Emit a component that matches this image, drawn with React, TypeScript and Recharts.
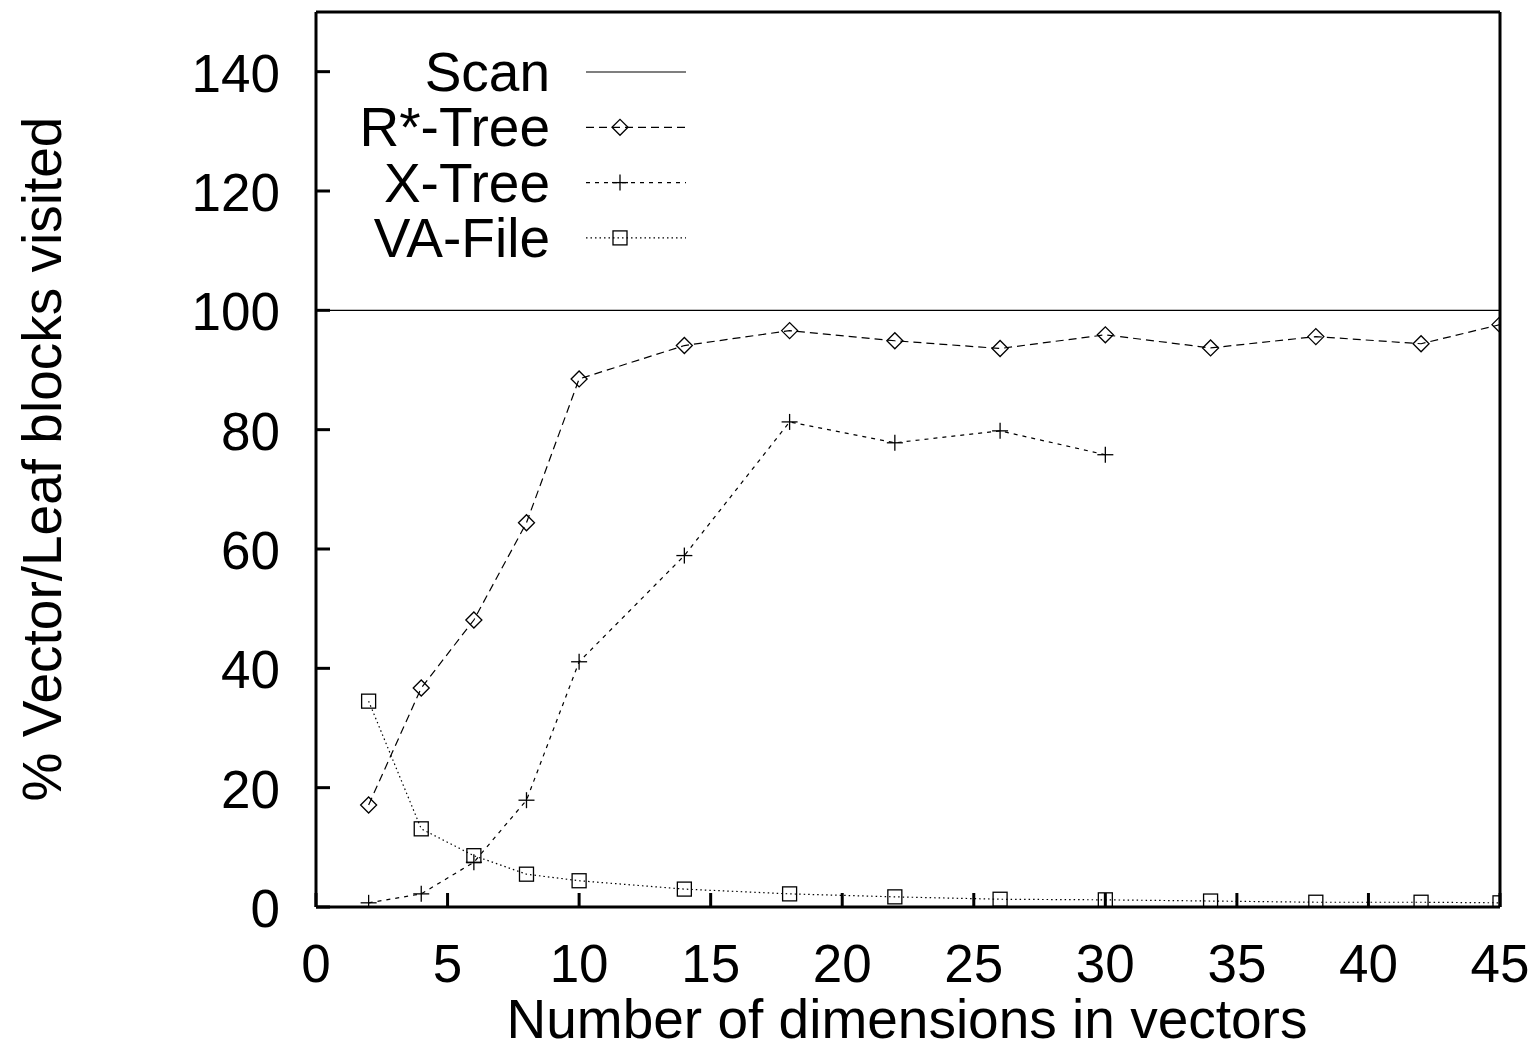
import React from 'react';
import { LineChart, Line, XAxis, YAxis } from 'recharts';

// dimensions on x, % of vector/leaf blocks visited on y
const dims = [2, 4, 6, 8, 10, 14, 18, 22, 26, 30, 34, 38, 42, 45];
const rstarTree = [17.1, 36.7, 48.1, 64.4, 88.5, 94.1, 96.6, 94.9, 93.6, 95.9, 93.7, 95.6, 94.4, 97.6];
const xTreeDims = [2, 4, 6, 8, 10, 14, 18, 22, 26, 30];
const xTree = [0.7, 2.2, 7.5, 17.9, 41.1, 58.9, 81.3, 77.8, 79.8, 75.8];
const vaFile = [34.5, 13.1, 8.6, 5.5, 4.4, 3.0, 2.2, 1.7, 1.3, 1.2, 1.0, 0.8, 0.8, 0.7];
const scanDims = [0, 45];
const scan = [100, 100];

const xTicks = [0, 5, 10, 15, 20, 25, 30, 35, 40, 45];
const yTicks = [0, 20, 40, 60, 80, 100, 120, 140];

const toPoints = (xs: number[], ys: number[]) => xs.map((x, i) => ({ x, y: ys[i] }));

const FONT = '"Liberation Sans", Arial, Helvetica, sans-serif';
const TICK_FS = 53;
const LABEL_FS = 55;
const TICK = 14;

const Diamond = (props: any) => {
  const { cx, cy } = props;
  if (cx == null || cy == null) return null;
  return <path d={`M${cx - 8},${cy} L${cx},${cy - 8} L${cx + 8},${cy} L${cx},${cy + 8} Z`} fill="none" stroke="#000" strokeWidth={1.3} />;
};

const Plus = (props: any) => {
  const { cx, cy } = props;
  if (cx == null || cy == null) return null;
  return (
    <g stroke="#000" strokeWidth={1.3}>
      <line x1={cx - 8} y1={cy} x2={cx + 8} y2={cy} />
      <line x1={cx} y1={cy - 8} x2={cx} y2={cy + 8} />
    </g>
  );
};

const Square = (props: any) => {
  const { cx, cy } = props;
  if (cx == null || cy == null) return null;
  return <rect x={cx - 7} y={cy - 7} width={14} height={14} fill="none" stroke="#000" strokeWidth={1.3} />;
};

const BottomTick = (props: any) => {
  const { x, y, payload } = props;
  return (
    <g>
      <line x1={x} y1={y} x2={x} y2={y - TICK} stroke="#000" strokeWidth={3} />
      <text x={x} y={y + 75} textAnchor="middle" fontSize={TICK_FS} fontFamily={FONT} fill="#000">{payload.value}</text>
    </g>
  );
};

const TopTick = (props: any) => {
  const { x, y } = props;
  return <line x1={x} y1={y} x2={x} y2={y + TICK} stroke="#000" strokeWidth={3} />;
};

const LeftTick = (props: any) => {
  const { x, y, payload } = props;
  return (
    <g>
      <line x1={x} y1={y} x2={x + TICK} y2={y} stroke="#000" strokeWidth={3} />
      <text x={x - 36} y={y + 20} textAnchor="end" fontSize={TICK_FS} fontFamily={FONT} fill="#000">{payload.value}</text>
    </g>
  );
};

const RightTick = (props: any) => {
  const { x, y } = props;
  return <line x1={x} y1={y} x2={x - TICK} y2={y} stroke="#000" strokeWidth={3} />;
};

const legendRows = [
  { name: 'Scan', dash: undefined, Marker: null },
  { name: 'R*-Tree', dash: '8 5', Marker: Diamond },
  { name: 'X-Tree', dash: '4 5', Marker: Plus },
  { name: 'VA-File', dash: '1.5 3', Marker: Square },
];

const ChartLegend = () => (
  <g fontFamily={FONT} fontSize={LABEL_FS}>
    {legendRows.map((r, i) => {
      const cy = 72 + i * 55.3;
      return (
        <g key={r.name}>
          <text x={550} y={cy + 19} textAnchor="end" fill="#000">{r.name}</text>
          <line x1={586} y1={cy} x2={686} y2={cy} stroke="#000" strokeWidth={1.2} strokeDasharray={r.dash} />
          {r.Marker && <r.Marker cx={620} cy={cy} />}
        </g>
      );
    })}
  </g>
);

export default function App() {
  return (
    <div style={{ position: 'absolute', left: 0, top: 0, width: 1533, height: 1043 }}>
      <LineChart width={1533} height={1043} margin={{ top: 0, right: 0, bottom: 0, left: 0 }}>
        <XAxis
          xAxisId="bottom"
          dataKey="x"
          type="number"
          domain={[0, 45]}
          ticks={xTicks}
          height={136}
          tickLine={false}
          tickSize={0}
          tickMargin={0}
          axisLine={{ stroke: '#000', strokeWidth: 3 }}
          tick={<BottomTick />}
          allowDataOverflow
        />
        <XAxis
          xAxisId="top"
          orientation="top"
          type="number"
          domain={[0, 45]}
          ticks={xTicks}
          height={12}
          tickLine={false}
          tickSize={0}
          tickMargin={0}
          axisLine={{ stroke: '#000', strokeWidth: 3 }}
          tick={<TopTick />}
        />
        <YAxis
          yAxisId="left"
          type="number"
          domain={[0, 150]}
          ticks={yTicks}
          width={316}
          tickLine={false}
          tickSize={0}
          tickMargin={0}
          axisLine={{ stroke: '#000', strokeWidth: 3 }}
          tick={<LeftTick />}
          allowDataOverflow
        />
        <YAxis
          yAxisId="right"
          orientation="right"
          type="number"
          domain={[0, 150]}
          ticks={yTicks}
          width={33}
          tickLine={false}
          tickSize={0}
          tickMargin={0}
          axisLine={{ stroke: '#000', strokeWidth: 3 }}
          tick={<RightTick />}
        />
        <Line xAxisId="bottom" yAxisId="left" data={toPoints(scanDims, scan)} dataKey="y" stroke="#000" strokeWidth={1.2} dot={false} activeDot={false} isAnimationActive={false} />
        <Line xAxisId="bottom" yAxisId="left" data={toPoints(dims, rstarTree)} dataKey="y" stroke="#000" strokeWidth={1.2} strokeDasharray="8 5" dot={<Diamond />} activeDot={false} isAnimationActive={false} />
        <Line xAxisId="bottom" yAxisId="left" data={toPoints(xTreeDims, xTree)} dataKey="y" stroke="#000" strokeWidth={1.2} strokeDasharray="4 5" dot={<Plus />} activeDot={false} isAnimationActive={false} />
        <Line xAxisId="bottom" yAxisId="left" data={toPoints(dims, vaFile)} dataKey="y" stroke="#000" strokeWidth={1.2} strokeDasharray="1.5 3" dot={<Square />} activeDot={false} isAnimationActive={false} />
        <text x={0} y={0} transform="translate(61,459) rotate(-90)" textAnchor="middle" fontFamily={FONT} fontSize={LABEL_FS} fill="#000">
          % Vector/Leaf blocks visited
        </text>
        <text x={907} y={1038} textAnchor="middle" fontFamily={FONT} fontSize={LABEL_FS} fill="#000">
          Number of dimensions in vectors
        </text>
        <ChartLegend />
      </LineChart>
    </div>
  );
}
